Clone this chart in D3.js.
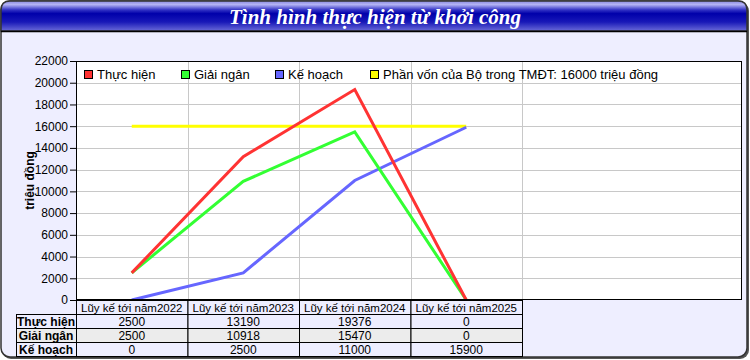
<!DOCTYPE html>
<html lang="vi">
<head>
<meta charset="UTF-8">
<title>Tình hình thực hiện từ khởi công</title>
<script src="https://cdn.jsdelivr.net/npm/d3@7"></script>
<style>
    body { margin: 0; background: #fff; }
    svg text { font-family: "Liberation Sans", Arial, sans-serif; }
</style>
</head>
<body>
<svg width="750" height="360"></svg>
<script>
    // data
    const categories = ["Lũy kế tới năm2022", "Lũy kế tới năm2023", "Lũy kế tới năm2024", "Lũy kế tới năm2025"];
    const seriesNames = ["Thực hiện", "Giải ngân", "Kế hoạch"];
    const thucHien = [2500, 13190, 19376, 0];
    const giaiNgan = [2500, 10918, 15470, 0];
    const keHoach = [0, 2500, 11000, 15900];
    const phanVon = 16000;
    const yTicks = [0, 2000, 4000, 6000, 8000, 10000, 12000, 14000, 16000, 18000, 20000, 22000];
    const colors = ["#ff3333", "#33ff33", "#6666ff"];

    const svg = d3.select("svg");
    const W = 750, H = 360;
    const plot = {left: 76, top: 61, right: 742, bottom: 300};

    // gradient for header
    let defs = svg.append("defs");
    let grad = defs.append("linearGradient").attr("id", "hdr")
        .attr("x1", 0).attr("y1", 0).attr("x2", 0).attr("y2", 1);
    [["0", "#8a8ae0"], ["0.12", "#b4b4f4"], ["0.3", "#3030c4"], ["0.42", "#0000aa"],
     ["0.7", "#1818b8"], ["1", "#6a6ad8"]].forEach(s =>
        grad.append("stop").attr("offset", s[0]).attr("stop-color", s[1]));

    // outer frame
    svg.append("rect").attr("x", 2).attr("y", 2).attr("width", W - 3).attr("height", H - 3)
        .attr("rx", 9).attr("fill", "#555");
    svg.append("rect").attr("x", 1).attr("y", 1).attr("width", W - 4).attr("height", H - 4)
        .attr("rx", 9).attr("fill", "#eeeeff").attr("stroke", "#333").attr("stroke-width", 1.5);

    // header
    svg.append("path")
        .attr("d", `M1,31 L1,10 Q1,1 10,1 L${W - 12},1 Q${W - 3},1 ${W - 3},10 L${W - 3},31 Z`)
        .attr("fill", "url(#hdr)").attr("stroke", "#333").attr("stroke-width", 1.5);
    svg.append("line").attr("x1", 1).attr("x2", W - 3).attr("y1", 31.5).attr("y2", 31.5)
        .attr("stroke", "#000").attr("stroke-width", 1.5);
    svg.append("text").attr("x", W / 2).attr("y", 24).attr("text-anchor", "middle")
        .style("font-family", "'Liberation Serif', 'Times New Roman', serif")
        .style("font-style", "italic").style("font-weight", "bold")
        .style("font-size", "21px").attr("fill", "#fff")
        .text("Tình hình thực hiện từ khởi công");

    // scales
    let x = d3.scaleBand().domain(categories).range([plot.left, plot.left + 446]);
    let y = d3.scaleLinear().domain([0, 22000]).range([plot.bottom, plot.top]);
    let cx = d => x(d) + x.bandwidth() / 2;

    // plot area
    svg.append("rect").attr("x", plot.left).attr("y", plot.top)
        .attr("width", plot.right - plot.left).attr("height", plot.bottom - plot.top)
        .attr("fill", "#fff");

    // grid
    svg.append("g").selectAll("line").data(yTicks.slice(1)).enter().append("line")
        .attr("x1", plot.left).attr("x2", plot.right)
        .attr("y1", d => Math.round(y(d)) + 0.5).attr("y2", d => Math.round(y(d)) + 0.5)
        .attr("stroke", "#c8c8c8");
    svg.append("g").selectAll("line").data(categories).enter().append("line")
        .attr("x1", d => Math.round(x(d) + x.bandwidth()) + 0.5)
        .attr("x2", d => Math.round(x(d) + x.bandwidth()) + 0.5)
        .attr("y1", plot.top).attr("y2", plot.bottom)
        .attr("stroke", "#c8c8c8");

    // y axis
    let yAxis = svg.append("g").attr("transform", `translate(${plot.left},0)`)
        .call(d3.axisLeft(y).tickValues(yTicks).tickFormat(d3.format("d")).tickSize(6).tickPadding(2));
    yAxis.select(".domain").remove();
    yAxis.selectAll("text").style("font-size", "12px").attr("fill", "#000")
        .style("font-family", "'Liberation Sans', Arial, sans-serif");
    yAxis.selectAll("line").attr("stroke", "#000");

    svg.append("text")
        .attr("transform", `translate(34,${(plot.top + plot.bottom) / 2}) rotate(-90)`)
        .attr("text-anchor", "middle").style("font-size", "12px").style("font-weight", "bold")
        .text("triệu đồng");

    // phan von line
    svg.append("line")
        .attr("x1", cx(categories[0])).attr("x2", cx(categories[categories.length - 1]))
        .attr("y1", y(phanVon)).attr("y2", y(phanVon))
        .attr("stroke", "#ffff00").attr("stroke-width", 3);

    // series lines
    let allSeries = [thucHien, giaiNgan, keHoach];
    let line = d3.line().x((d, i) => cx(categories[i])).y(d => y(d));
    [2, 1, 0].forEach(k => {
        svg.append("path").datum(allSeries[k])
            .attr("d", line).attr("fill", "none")
            .attr("stroke", colors[k]).attr("stroke-width", 3)
            .attr("stroke-linejoin", "miter");
    });

    // plot border
    svg.append("rect").attr("x", plot.left + 0.5).attr("y", plot.top + 0.5)
        .attr("width", plot.right - plot.left - 1).attr("height", plot.bottom - plot.top - 1)
        .attr("fill", "none").attr("stroke", "#000");

    // legend
    let legendItems = [
        {name: seriesNames[0], color: colors[0], x: 84},
        {name: seriesNames[1], color: colors[1], x: 181},
        {name: seriesNames[2], color: colors[2], x: 275},
        {name: "Phần vốn của Bộ trong TMĐT: " + phanVon + " triệu đồng", color: "#ffff00", x: 370}
    ];
    let lg = svg.append("g").selectAll("g").data(legendItems).enter().append("g")
        .attr("transform", d => `translate(${d.x},70)`);
    lg.append("rect").attr("x", 0.5).attr("y", 0.5).attr("width", 8).attr("height", 8)
        .attr("fill", d => d.color).attr("stroke", "#000");
    lg.append("text").attr("x", 13).attr("y", 9).style("font-size", "13px").text(d => d.name);

    // data table under the axis
    let rowY = [300, 314, 328, 342, 356];
    let rowFill = ["#eeeeff", "#eeeeff", "#ececec", "#eeeeff"];
    let tbl = svg.append("g");
    // category header row
    categories.forEach(c => {
        tbl.append("rect").attr("x", x(c) + 0.5).attr("y", rowY[0] + 0.5)
            .attr("width", x.bandwidth()).attr("height", rowY[1] - rowY[0])
            .attr("fill", rowFill[0]).attr("stroke", "#000");
        tbl.append("text").attr("x", cx(c)).attr("y", rowY[1] - 2.5)
            .attr("text-anchor", "middle").style("font-size", "11.5px").text(c);
    });
    allSeries.forEach((s, r) => {
        let y0 = rowY[r + 1], y1 = rowY[r + 2];
        tbl.append("rect").attr("x", 16.5).attr("y", y0 + 0.5)
            .attr("width", plot.left - 16).attr("height", y1 - y0)
            .attr("fill", rowFill[r + 1]).attr("stroke", "#000");
        tbl.append("text").attr("x", (16 + plot.left) / 2).attr("y", y1 - 2.5)
            .attr("text-anchor", "middle").style("font-size", "12px").style("font-weight", "bold")
            .text(seriesNames[r]);
        categories.forEach((c, i) => {
            tbl.append("rect").attr("x", x(c) + 0.5).attr("y", y0 + 0.5)
                .attr("width", x.bandwidth()).attr("height", y1 - y0)
                .attr("fill", rowFill[r + 1]).attr("stroke", "#000");
            tbl.append("text").attr("x", cx(c)).attr("y", y1 - 2.5)
                .attr("text-anchor", "middle").style("font-size", "12px").text(s[i]);
        });
    });
</script>
</body>
</html>
